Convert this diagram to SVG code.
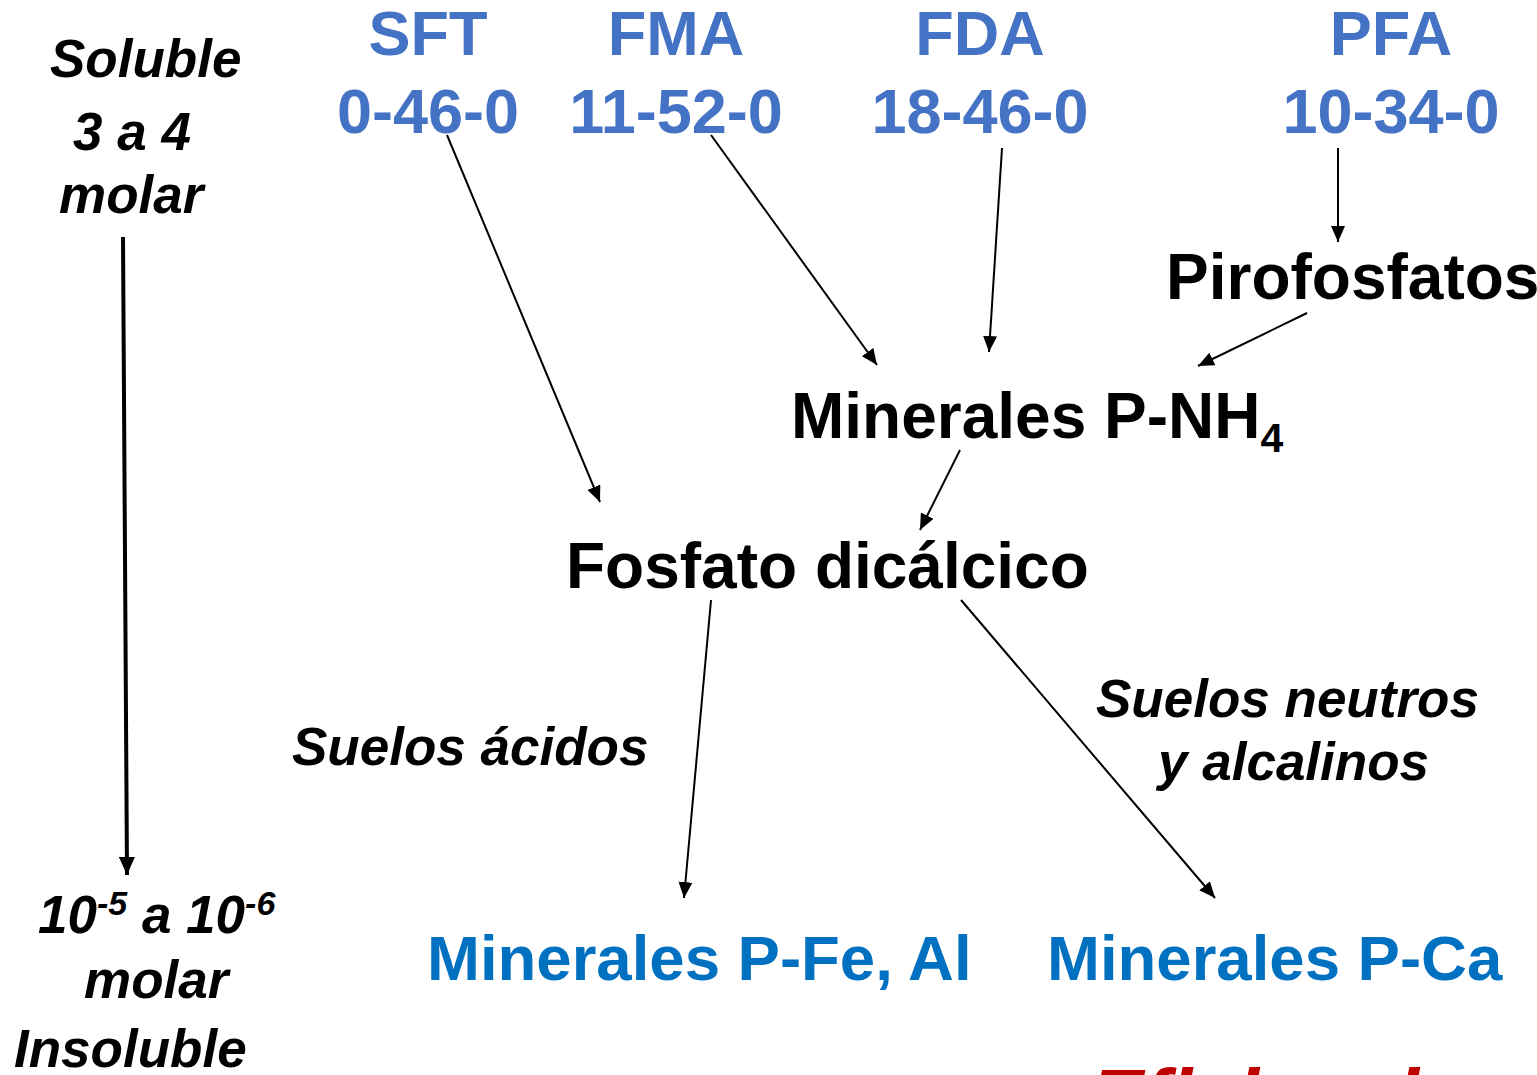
<svg xmlns="http://www.w3.org/2000/svg" width="1537" height="1075" viewBox="0 0 1537 1075">
<defs>
<marker id="ah" markerUnits="userSpaceOnUse" markerWidth="18" markerHeight="14" refX="16" refY="7" orient="auto">
<path d="M0,0 L16,7 L0,14 z" fill="#000"/>
</marker>
<marker id="ahb" markerUnits="userSpaceOnUse" markerWidth="20" markerHeight="16" refX="18" refY="8" orient="auto">
<path d="M0,0 L18,8 L0,16 z" fill="#000"/>
</marker>
</defs>
<style>
text{font-family:"Liberation Sans",Arial,sans-serif;font-weight:bold}
.top{fill:#4472C4;font-size:63px;text-anchor:middle}
.blk{fill:#000;font-size:64px}
.it{fill:#000;font-size:53px;font-style:italic}
.min{fill:#0070C0;font-size:63.5px}
.red{fill:#C00000;font-size:80px;font-style:italic}
.c{stroke:#000;stroke-width:2;fill:none;marker-end:url(#ah)}
</style>
<rect width="1537" height="1075" fill="#fff"/>
<g id="scale">
<text class="it" x="50" y="77">Soluble</text>
<text class="it" x="73" y="150">3 a 4</text>
<text class="it" x="59" y="213">molar</text>
<text class="it" font-size="51" x="38" y="933">10<tspan font-size="34" dy="-18">-5</tspan><tspan dy="18"> a 10</tspan><tspan font-size="34" dy="-18">-6</tspan></text>
<text class="it" x="84" y="998">molar</text>
<text class="it" x="14" y="1067">Insoluble</text>
</g>
<g id="sft"><text class="top" x="428" y="55">SFT</text><text class="top" x="428" y="133">0-46-0</text></g>
<g id="fma"><text class="top" x="676" y="55">FMA</text><text class="top" x="676" y="133">11-52-0</text></g>
<g id="fda"><text class="top" x="980" y="55">FDA</text><text class="top" x="980" y="133">18-46-0</text></g>
<g id="pfa"><text class="top" x="1391" y="55">PFA</text><text class="top" x="1391" y="133">10-34-0</text></g>
<g id="pirofosfatos"><text class="blk" x="1166" y="299">Pirofosfatos</text></g>
<g id="pnh4"><text class="blk" x="791" y="438">Minerales P-NH<tspan font-size="41" dy="14" fill="#000">4</tspan></text></g>
<g id="fosfato"><text class="blk" x="566" y="588">Fosfato dicálcico</text></g>
<g id="acidos"><text class="it" x="292" y="765">Suelos ácidos</text></g>
<g id="neutros"><text class="it" x="1096" y="717">Suelos neutros</text><text class="it" x="1158" y="780">y alcalinos</text></g>
<g id="pfeal"><text class="min" x="427" y="980">Minerales P-Fe, Al</text></g>
<g id="pca"><text class="min" x="1047" y="980">Minerales P-Ca</text></g>
<g id="eficiencia"><text class="red" x="1090" y="1125">Eficiencia</text></g>
<g id="connectors">
<line x1="123" y1="237" x2="127" y2="875" stroke="#000" stroke-width="4" marker-end="url(#ahb)"/>
<line class="c" x1="447" y1="135" x2="600" y2="502"/>
<line class="c" x1="711" y1="135" x2="877" y2="365"/>
<line class="c" x1="1002" y1="148" x2="989" y2="352"/>
<line class="c" x1="1338" y1="148" x2="1338" y2="242"/>
<line class="c" x1="1307" y1="313" x2="1198" y2="366"/>
<line class="c" x1="960" y1="450" x2="920" y2="530"/>
<line class="c" x1="711" y1="600" x2="684" y2="898"/>
<line class="c" x1="961" y1="600" x2="1215" y2="898"/>
</g>
</svg>
